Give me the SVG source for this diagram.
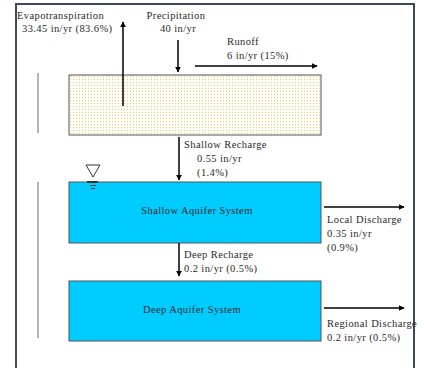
<svg xmlns="http://www.w3.org/2000/svg" width="424" height="368" viewBox="0 0 424 368">
<style>
text{font-family:"Liberation Serif","Times New Roman",serif;font-size:10.5px;letter-spacing:0.4px;fill:#2a2a2a}
.box{stroke:#555;stroke-width:1}
.aq{fill:#00ccff}
.flow{stroke:#000;stroke-width:1.5;fill:none;marker-end:url(#ah)}
.gl{stroke:#b4b4b4;stroke-width:2}
</style>
<defs>
<marker id="ah" viewBox="0 0 10 10" refX="9" refY="5" markerWidth="4" markerHeight="4" orient="auto" markerUnits="strokeWidth">
<path d="M0,0L10,5L0,10z" fill="#000"/>
</marker>
<pattern id="dots" width="3" height="3" patternUnits="userSpaceOnUse">
<rect width="3" height="3" fill="#fffdf6"/>
<rect x="1" y="1" width="1" height="1" fill="#e8c98e"/>
</pattern>
</defs>
<rect width="424" height="368" fill="#fff"/>
<rect x="16" y="4" width="398" height="372" fill="none" stroke="#3d4a5c" stroke-width="2"/>
<line class="gl" x1="38" y1="73" x2="38" y2="133"/>
<line class="gl" x1="38" y1="182" x2="38" y2="338"/>
<g id="soil"><rect class="box" x="69" y="75" width="252" height="60" fill="url(#dots)"/></g>
<g id="shallow"><rect class="box aq" x="69" y="182" width="252" height="61"/>
<text x="197" y="214" text-anchor="middle">Shallow Aquifer System</text></g>
<g id="deep"><rect class="box aq" x="69" y="281" width="252" height="60"/>
<text x="192" y="313" text-anchor="middle">Deep Aquifer System</text></g>
<g id="watertable">
<path d="M86,165L100,165L93,177z" fill="#fff" stroke="#333" stroke-width="1"/>
<line x1="87" y1="182" x2="98" y2="182" stroke="#333" stroke-width="2"/>
<line x1="90" y1="185.5" x2="96" y2="185.5" stroke="#333" stroke-width="1"/>
<line x1="91" y1="188.5" x2="95" y2="188.5" stroke="#333" stroke-width="1"/>
</g>
<g id="connectors">
<line class="flow" x1="123" y1="106" x2="123" y2="22"/>
<line class="flow" x1="178" y1="40" x2="178" y2="72"/>
<line class="flow" x1="195" y1="66" x2="317" y2="66"/>
<line class="flow" x1="179" y1="137" x2="179" y2="180"/>
<line class="flow" x1="179" y1="243" x2="179" y2="276"/>
<line class="flow" x1="324" y1="207" x2="404" y2="207"/>
<line class="flow" x1="324" y1="308" x2="404" y2="308"/>
</g>
<g id="labels">
<text x="17" y="19">Evapotranspiration</text>
<text x="22" y="32">33.45 in/yr (83.6%)</text>
<text x="176" y="19" text-anchor="middle">Precipitation</text>
<text x="178" y="32" text-anchor="middle">40 in/yr</text>
<text x="227" y="45">Runoff</text>
<text x="227" y="59">6 in/yr (15%)</text>
<text x="184" y="148">Shallow Recharge</text>
<text x="197" y="162">0.55 in/yr</text>
<text x="197" y="176">(1.4%)</text>
<text x="327" y="223">Local Discharge</text>
<text x="327" y="237">0.35 in/yr</text>
<text x="327" y="251">(0.9%)</text>
<text x="184" y="258">Deep Recharge</text>
<text x="184" y="272">0.2 in/yr (0.5%)</text>
<text x="327" y="327">Regional Discharge</text>
<text x="327" y="341">0.2 in/yr (0.5%)</text>
</g>
</svg>
